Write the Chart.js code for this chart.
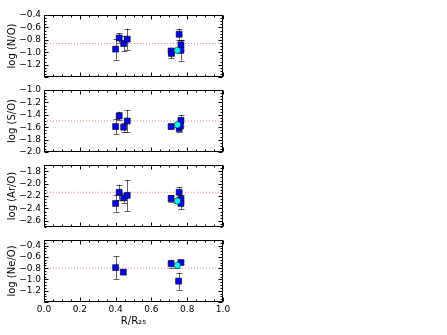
<!DOCTYPE html>
<html>
<head>
<meta charset="utf-8">
<script src="https://cdn.jsdelivr.net/npm/chart.js@4/dist/chart.umd.min.js"></script>
<style>
    html, body { margin: 0; padding: 0; background: #fff; }
    #wrap { position: relative; width: 447px; height: 335px; }
    #wrap canvas { position: absolute; left: 0; top: 0; }
</style>
</head>
<body>
<div id="wrap">
    <canvas id="c0" width="447" height="335"></canvas>
    <canvas id="c1" width="447" height="335"></canvas>
    <canvas id="c2" width="447" height="335"></canvas>
    <canvas id="c3" width="447" height="335"></canvas>
</div>
<script>
// ── Data ──
const X_TICKS = [0.0, 0.2, 0.4, 0.6, 0.8, 1.0];

// N/O
const NO_R     = [0.40, 0.42, 0.445, 0.465, 0.71, 0.712, 0.755, 0.765, 0.765];
const NO_V     = [-0.95, -0.77, -0.86, -0.79, -0.98, -1.02, -0.71, -0.88, -0.97];
const NO_ERR   = [0.17, 0.08, 0.12, 0.17, 0.05, 0.08, 0.09, 0.08, 0.17];
const NO_C_R   = [0.745];
const NO_C_V   = [-0.97];
const NO_C_ERR = [0.03];
const NO_REF   = -0.86;
const NO_TICKS = [-0.4, -0.6, -0.8, -1.0, -1.2];

// S/O
const SO_R     = [0.40, 0.42, 0.445, 0.465, 0.71, 0.765, 0.755, 0.762];
const SO_V     = [-1.59, -1.42, -1.60, -1.50, -1.59, -1.49, -1.62, -1.58];
const SO_ERR   = [0.12, 0.07, 0.07, 0.18, 0.03, 0.09, 0.05, 0.04];
const SO_C_R   = [0.745];
const SO_C_V   = [-1.56];
const SO_C_ERR = [0.03];
const SO_REF   = -1.5;
const SO_TICKS = [-1.0, -1.2, -1.4, -1.6, -1.8, -2.0];

// Ar/O
const AR_R     = [0.40, 0.42, 0.445, 0.465, 0.71, 0.755, 0.765, 0.765];
const AR_V     = [-2.32, -2.14, -2.23, -2.19, -2.24, -2.14, -2.25, -2.32];
const AR_ERR   = [0.14, 0.12, 0.08, 0.25, 0.05, 0.08, 0.07, 0.09];
const AR_C_R   = [0.745];
const AR_C_V   = [-2.28];
const AR_C_ERR = [0.04];
const AR_REF   = -2.14;
const AR_TICKS = [-1.8, -2.0, -2.2, -2.4, -2.6];

// Ne/O
const NE_R     = [0.40, 0.443, 0.71, 0.765, 0.752];
const NE_V     = [-0.79, -0.87, -0.72, -0.70, -1.03];
const NE_ERR   = [0.20, 0.04, 0.07, 0.03, 0.15];
const NE_C_R   = [0.745];
const NE_C_V   = [-0.75];
const NE_C_ERR = [0.04];
const NE_REF   = -0.80;
const NE_TICKS = [-0.4, -0.6, -0.8, -1.0, -1.2];

// ── Layout ──
const W = 447, H = 335;
const PLOT_LEFT = 44, PLOT_RIGHT = 223;
const TOPS = [15, 90, 165, 240];
const PANEL_H = 62;
const FONT = "'DejaVu Sans', sans-serif";

const PANELS = [
    { title: 'log (N/O)',  min: -1.4, max: -0.4, ticks: NO_TICKS, r: NO_R, v: NO_V, e: NO_ERR, cr: NO_C_R, cv: NO_C_V, ce: NO_C_ERR, ref: NO_REF },
    { title: 'log (S/O)',  min: -2.0, max: -1.0, ticks: SO_TICKS, r: SO_R, v: SO_V, e: SO_ERR, cr: SO_C_R, cv: SO_C_V, ce: SO_C_ERR, ref: SO_REF },
    { title: 'log (Ar/O)', min: -2.7, max: -1.7, ticks: AR_TICKS, r: AR_R, v: AR_V, e: AR_ERR, cr: AR_C_R, cv: AR_C_V, ce: AR_C_ERR, ref: AR_REF },
    { title: 'log (Ne/O)', min: -1.4, max: -0.3, ticks: NE_TICKS, r: NE_R, v: NE_V, e: NE_ERR, cr: NE_C_R, cv: NE_C_V, ce: NE_C_ERR, ref: NE_REF },
];

const fmt = v => v.toFixed(1).replace('-', '\u2212');

// ── Error bars (drawn under the markers) ──
const errorBars = {
    id: 'errorBars',
    beforeDatasetsDraw(chart) {
        const ctx = chart.ctx;
        const xs = chart.scales.x, ys = chart.scales.y;
        ctx.save();
        ctx.strokeStyle = 'rgba(0,0,0,0.62)';
        ctx.lineWidth = 1;
        chart.data.datasets.forEach(ds => {
            if (!ds.err) return;
            ds.data.forEach((p, k) => {
                const px = Math.round(xs.getPixelForValue(p.x)) + 0.5;
                const y1 = ys.getPixelForValue(p.y + ds.err[k]);
                const y2 = ys.getPixelForValue(p.y - ds.err[k]);
                ctx.beginPath();
                ctx.moveTo(px, y1); ctx.lineTo(px, y2);
                ctx.moveTo(px - 3, Math.round(y1) + 0.5); ctx.lineTo(px + 3, Math.round(y1) + 0.5);
                ctx.moveTo(px - 3, Math.round(y2) + 0.5); ctx.lineTo(px + 3, Math.round(y2) + 0.5);
                ctx.stroke();
            });
        });
        ctx.restore();
    }
};

// ── Frame with inward major/minor ticks ──
const frameTicks = {
    id: 'frameTicks',
    afterDraw(chart) {
        const ctx = chart.ctx;
        const a = chart.chartArea;
        const xs = chart.scales.x, ys = chart.scales.y;
        const L = a.left + 0.5, R = a.right - 0.5, T = a.top + 0.5, B = a.bottom - 0.5;
        ctx.save();
        ctx.strokeStyle = '#000';
        ctx.lineWidth = 1;
        ctx.strokeRect(L, T, R - L, B - T);
        ctx.beginPath();
        // x ticks
        for (let i = 0; i <= 20; i++) {
            const v = i * 0.05;
            const len = (i % 4 === 0) ? 4 : 2;
            const px = Math.round(xs.getPixelForValue(v)) + 0.5;
            ctx.moveTo(px, B); ctx.lineTo(px, B - len);
            ctx.moveTo(px, T); ctx.lineTo(px, T + len);
        }
        // y ticks
        const lo = Math.ceil(ys.min / 0.05 - 1e-6), hi = Math.floor(ys.max / 0.05 + 1e-6);
        for (let i = lo; i <= hi; i++) {
            const v = i * 0.05;
            const major = Math.abs(v / 0.2 - Math.round(v / 0.2)) < 1e-6;
            const len = major ? 4 : 2;
            const py = Math.round(ys.getPixelForValue(v)) + 0.5;
            ctx.moveTo(L, py); ctx.lineTo(L + len, py);
            ctx.moveTo(R, py); ctx.lineTo(R - len, py);
        }
        ctx.stroke();
        ctx.restore();
    }
};

function makePanel(i, p) {
    const top = TOPS[i], bottom = top + PANEL_H;
    const last = i === PANELS.length - 1;

    new Chart(document.getElementById('c' + i), {
        type: 'scatter',
        data: {
            datasets: [
                {
                    type: 'line',
                    data: [{ x: 0, y: p.ref }, { x: 1, y: p.ref }],
                    borderColor: 'rgba(255,80,80,0.75)',
                    borderWidth: 1,
                    borderDash: [1, 2],
                    pointRadius: 0,
                    order: 3,
                },
                {
                    data: p.r.map((x, k) => ({ x, y: p.v[k] })),
                    err: p.e,
                    pointStyle: 'rect',
                    pointRadius: 4.2,
                    backgroundColor: '#0000ff',
                    borderColor: '#000',
                    borderWidth: 0.6,
                    order: 2,
                },
                {
                    data: p.cr.map((x, k) => ({ x, y: p.cv[k] })),
                    err: p.ce,
                    pointStyle: 'circle',
                    pointRadius: 3.2,
                    backgroundColor: '#00ffff',
                    borderColor: '#000',
                    borderWidth: 0.5,
                    order: 1,
                },
            ]
        },
        options: {
            responsive: false,
            animation: false,
            events: [],
            layout: {
                autoPadding: false,
                padding: { left: 0, right: W - PLOT_RIGHT, top: top, bottom: 0 }
            },
            plugins: { legend: { display: false }, tooltip: { enabled: false } },
            scales: {
                x: {
                    type: 'linear',
                    min: 0, max: 1,
                    afterBuildTicks: s => { s.ticks = X_TICKS.map(v => ({ value: v })); },
                    afterFit: s => { s.height = H - bottom; },
                    grid: { display: false, drawTicks: false },
                    border: { display: false },
                    ticks: {
                        display: last,
                        padding: 2, color: '#000', maxRotation: 0, autoSkip: false,
                        font: { family: FONT, size: 9 },
                        callback: v => v.toFixed(1),
                    },
                    title: {
                        display: last, text: 'R/R\u2082\u2085', color: '#000',
                        font: { family: FONT, size: 10 },
                        padding: { top: 0, bottom: 8 },
                    },
                },
                y: {
                    type: 'linear',
                    min: p.min, max: p.max,
                    afterBuildTicks: s => { s.ticks = p.ticks.map(v => ({ value: v })); },
                    afterFit: s => { s.width = PLOT_LEFT; },
                    grid: { display: false, drawTicks: false },
                    border: { display: false },
                    ticks: {
                        padding: 3, color: '#000', autoSkip: false,
                        font: { family: FONT, size: 9 },
                        callback: v => fmt(v),
                    },
                    title: {
                        display: true, text: p.title, color: '#000',
                        font: { family: FONT, size: 10 },
                        padding: { top: 6, bottom: 0 },
                    },
                },
            },
        },
        plugins: [errorBars, frameTicks],
    });
}

PANELS.forEach((p, i) => makePanel(i, p));
</script>
</body>
</html>
